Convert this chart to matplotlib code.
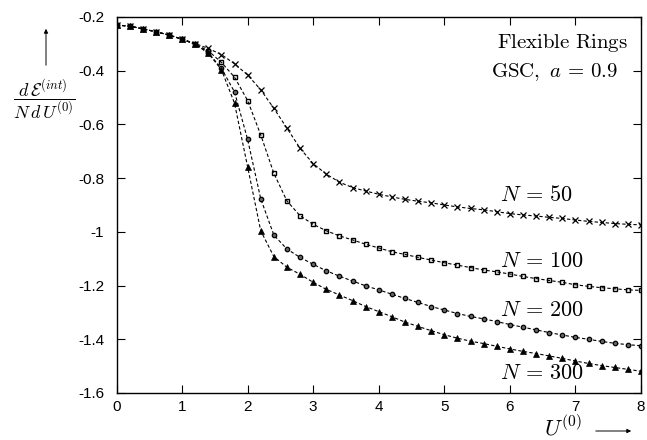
import matplotlib
matplotlib.use("Agg")
import matplotlib.pyplot as plt
from matplotlib.ticker import FormatStrFormatter

plt.rcParams['mathtext.fontset'] = 'cm'
plt.rcParams['font.family'] = ['Liberation Sans', 'DejaVu Sans']

# U^(0) sample points
u = [0.0, 0.2, 0.4, 0.6, 0.8, 1.0, 1.2, 1.4, 1.6, 1.8,
     2.0, 2.2, 2.4, 2.6, 2.8, 3.0, 3.2, 3.4, 3.6, 3.8,
     4.0, 4.2, 4.4, 4.6, 4.8, 5.0, 5.2, 5.4, 5.6, 5.8,
     6.0, 6.2, 6.4, 6.6, 6.8, 7.0, 7.2, 7.4, 7.6, 7.8, 8.0]

n50 = [-0.230, -0.234, -0.244, -0.255, -0.267, -0.282, -0.299, -0.317, -0.340, -0.374,
       -0.416, -0.471, -0.540, -0.614, -0.689, -0.746, -0.785, -0.815, -0.835, -0.848,
       -0.860, -0.870, -0.879, -0.886, -0.892, -0.900, -0.907, -0.913, -0.918, -0.925,
       -0.932, -0.937, -0.941, -0.946, -0.950, -0.956, -0.961, -0.965, -0.969, -0.972, -0.974]

n100 = [-0.230, -0.234, -0.244, -0.255, -0.267, -0.283, -0.301, -0.326, -0.369, -0.424,
        -0.511, -0.639, -0.782, -0.885, -0.940, -0.972, -0.996, -1.015, -1.030, -1.046,
        -1.060, -1.074, -1.084, -1.095, -1.105, -1.115, -1.124, -1.133, -1.142, -1.149,
        -1.157, -1.166, -1.174, -1.181, -1.188, -1.197, -1.203, -1.208, -1.212, -1.216, -1.218]

n200 = [-0.230, -0.234, -0.244, -0.255, -0.267, -0.283, -0.301, -0.333, -0.391, -0.479,
        -0.656, -0.877, -1.012, -1.064, -1.095, -1.121, -1.145, -1.165, -1.183, -1.201,
        -1.216, -1.232, -1.248, -1.263, -1.278, -1.291, -1.304, -1.315, -1.324, -1.334,
        -1.345, -1.355, -1.365, -1.375, -1.384, -1.393, -1.400, -1.408, -1.415, -1.420, -1.424]

n300 = [-0.230, -0.234, -0.244, -0.255, -0.267, -0.283, -0.301, -0.335, -0.396, -0.521,
        -0.758, -0.996, -1.092, -1.132, -1.158, -1.188, -1.214, -1.235, -1.256, -1.278,
        -1.297, -1.316, -1.336, -1.352, -1.368, -1.383, -1.396, -1.407, -1.416, -1.426,
        -1.436, -1.445, -1.453, -1.462, -1.471, -1.481, -1.490, -1.498, -1.505, -1.512, -1.519]

labels = ['$N\\,=\\,50$', '$N\\,=\\,100$', '$N\\,=\\,200$', '$N\\,=\\,300$']
label_y = [-0.866, -1.112, -1.293, -1.527]

W, H = 647, 440
fig = plt.figure(figsize=(W / 100, H / 100), dpi=100)
ax = fig.add_axes([116.5 / W, 1 - 393 / H, (641 - 116.5) / W, (393 - 17) / H])

dash = (0, (3, 2))
ax.plot(u, n50, color='k', lw=0.8, ls=dash, marker='x', ms=4.5, mew=0.9)
ax.plot(u, n100, color='k', lw=0.8, ls=dash, marker='s', ms=3.2, mfc='none', mew=1.0)
ax.plot(u, n200, color='k', lw=0.8, ls=dash, marker='o', ms=3.2, mfc='0.4', mew=0.9)
ax.plot(u, n300, color='k', lw=0.8, ls=dash, marker='^', ms=4.2, mew=0.5)

ax.set_xlim(0, 8)
ax.set_ylim(-1.6, -0.2)
ax.set_xticks(range(0, 9))
ax.set_yticks([-1.6, -1.4, -1.2, -1.0, -0.8, -0.6, -0.4, -0.2])
ax.yaxis.set_major_formatter(FormatStrFormatter('%g'))
ax.tick_params(direction='in', top=True, right=True, length=6, width=0.8, labelsize=11)
ax.tick_params(axis='x', pad=5)
ax.tick_params(axis='y', pad=9)
for s in ax.spines.values():
    s.set_linewidth(1.0)

for txt, yy in zip(labels, label_y):
    ax.text(5.85, yy, txt, fontsize=16, va='center', ha='left')

ax.text(7.8, -0.295, '$\\mathrm{Flexible\\ Rings}$', fontsize=15, ha='right', va='center')
ax.text(7.65, -0.405, '$\\mathrm{GSC,}\\ a\\,=\\,0.9$', fontsize=15, ha='right', va='center')

# y label with upward arrow
fig.text(44 / W, 1 - 100 / H, '$\\dfrac{d\\,\\mathcal{E}^{(int)}}{N\\,d\\,U^{(0)}}$',
         fontsize=13, ha='center', va='center')
fig.add_artist(matplotlib.patches.FancyArrowPatch(
    (46 / W, 1 - 68 / H), (46 / W, 1 - 26 / H), transform=fig.transFigure,
    arrowstyle='-|>', mutation_scale=6, lw=0.7, color='k'))

# x label with right arrow
fig.text(563 / W, 1 - 428 / H, '$U^{(0)}$', fontsize=16, ha='center', va='center')
fig.add_artist(matplotlib.patches.FancyArrowPatch(
    (593 / W, 1 - 431 / H), (634 / W, 1 - 431 / H), transform=fig.transFigure,
    arrowstyle='-|>', mutation_scale=6, lw=0.7, color='k'))

fig.savefig('out.png', dpi=100)
